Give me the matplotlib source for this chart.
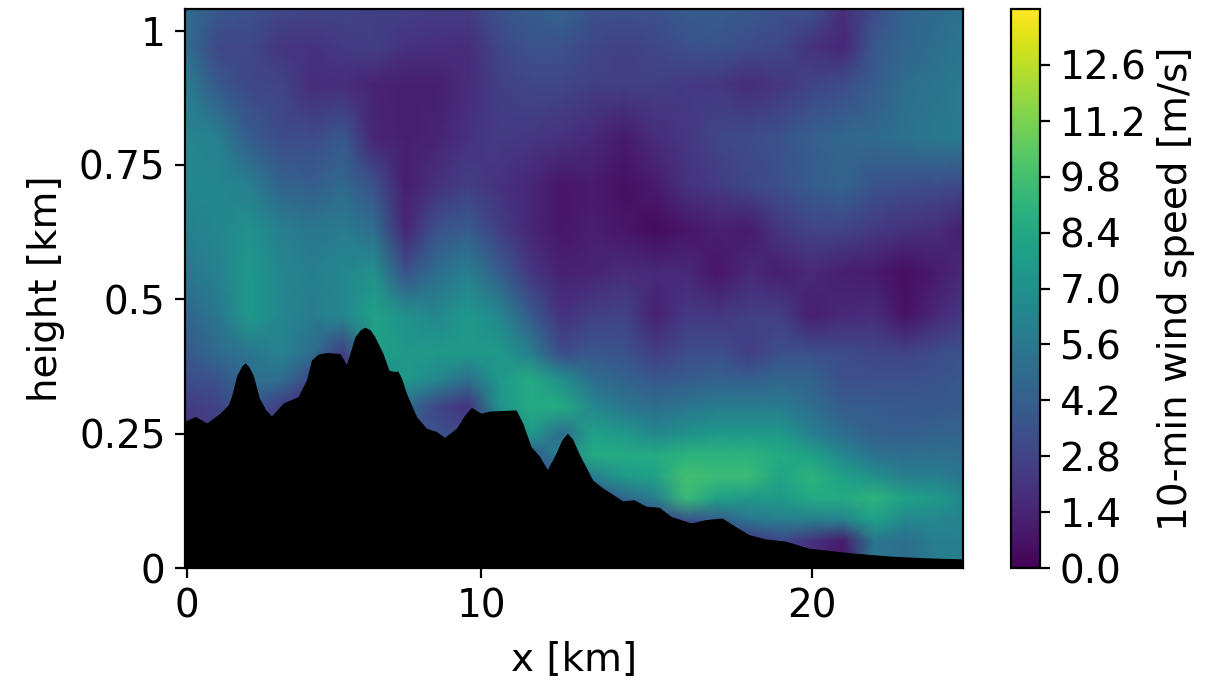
import numpy as np
import matplotlib
matplotlib.use("Agg")
import matplotlib.pyplot as plt

# terrain profile
terrain_x = [-0.06, 0.27, 0.64, 1.06, 1.33, 1.44, 1.60, 1.75, 1.86, 1.98, 2.13, 2.32, 2.53, 2.71, 3.09, 3.56,
             3.83, 3.99, 4.2, 4.5, 4.9, 5.11, 5.25, 5.38, 5.55, 5.7, 5.87, 6.02, 6.28, 6.47, 6.60, 6.76, 6.88,
             7.03, 7.35, 7.67, 7.99, 8.25, 8.63, 8.90, 9.11, 9.42, 9.69, 10.1, 10.54, 10.75, 11.02, 11.29,
             11.54, 11.82, 12.0, 12.18, 12.35, 12.57, 12.99, 13.31, 13.58, 13.95, 14.32, 14.70, 15.12, 15.50,
             16.13, 16.61, 17.14, 17.57, 18.0, 18.53, 19.17, 19.91, 21.29, 22.57, 23.64, 24.85]
terrain_h = [0.273, 0.282, 0.270, 0.288, 0.304, 0.322, 0.359, 0.375, 0.382, 0.375, 0.358, 0.316, 0.294, 0.283,
             0.307, 0.319, 0.350, 0.387, 0.398, 0.401, 0.399, 0.379, 0.405, 0.430, 0.443, 0.448, 0.443, 0.430,
             0.399, 0.368, 0.366, 0.366, 0.352, 0.325, 0.282, 0.260, 0.254, 0.243, 0.260, 0.285, 0.299, 0.288,
             0.292, 0.293, 0.294, 0.270, 0.226, 0.208, 0.183, 0.214, 0.238, 0.251, 0.240, 0.211, 0.164, 0.149,
             0.139, 0.125, 0.127, 0.115, 0.113, 0.096, 0.084, 0.090, 0.093, 0.077, 0.062, 0.054, 0.050, 0.037,
             0.028, 0.022, 0.019, 0.017]

# wind speed on a coarse grid, one row per height from the ground up
grid_x = [-0.06, 1, 2, 3, 4, 5, 6, 7, 8, 9, 10, 11, 12, 13, 14, 15, 16, 17, 18, 19, 20, 21, 22, 23, 24, 24.85]
grid_h = [0.0, 0.05, 0.09, 0.13, 0.17, 0.21, 0.25, 0.30, 0.35, 0.40, 0.47, 0.55, 0.63, 0.71, 0.80, 0.90, 0.97, 1.04]
wind = [
    [2, 2, 2, 2, 2, 2, 2, 2, 2, 2, 2, 2, 2, 2, 2, 2, 2, 2, 2, 3, 1.5, 0.8, 5.5, 5, 6, 6],
    [2, 2, 2, 2, 2, 2, 2, 2, 2, 2, 2, 2, 2, 2, 2, 2, 2, 2, 2, 3, 2, 1, 5.5, 5, 6, 6],
    [2, 2, 2, 2, 2, 2, 2, 2, 2, 2, 2, 2, 2, 2, 3, 3, 3.5, 4, 5.5, 6, 6, 6.2, 8, 6.5, 6.5, 6.2],
    [2, 2, 2, 2, 2, 2, 2, 2, 2, 2, 2, 2, 2, 3, 4.5, 6, 9.5, 8, 7.5, 7.5, 8.5, 8.5, 9, 8, 7.5, 6.5],
    [2, 2, 2, 2, 2, 2, 2, 2, 2, 2, 2, 3, 4, 6, 7.5, 8, 9.8, 9.5, 9.5, 8.2, 9, 8, 7, 6, 6, 5.5],
    [2, 2, 2, 2, 2, 2, 2, 2, 3, 3, 3, 4, 6, 8.5, 8.5, 8.5, 9, 9, 9, 8.5, 8, 6.5, 5.2, 5, 5, 5],
    [2, 2.5, 3, 2.5, 2, 2, 3, 3, 3.5, 3, 5, 7.5, 5, 8, 7.5, 6.5, 7, 7.5, 7.5, 7.5, 6, 5, 4.3, 4.2, 4.4, 4.5],
    [2.4, 2.8, 4, 2.5, 1.5, 2, 4, 5, 3, 2, 7, 8.5, 8.5, 6.5, 5.5, 5, 5.5, 5.8, 5.8, 5.8, 5, 4, 4, 3.8, 3.8, 4],
    [3.2, 3.6, 5, 5, 3, 1.5, 6, 7.5, 6.5, 5, 7.5, 8.5, 7, 5, 4.4, 3.8, 4, 4.4, 4.2, 4.6, 4.4, 3.4, 3.4, 3.4, 3.6, 3.8],
    [3.8, 4.8, 5.5, 6.2, 5, 2.5, 8, 7.5, 7.5, 7.5, 7.5, 6, 3.2, 3.8, 3.6, 2.6, 3.2, 3.4, 2.6, 3.4, 3.4, 3.2, 3, 2.8, 3.2, 3.6],
    [4.5, 5.5, 7.5, 6.5, 5.8, 6.5, 8, 7, 6.5, 7.5, 6.5, 4, 2, 2.6, 2.8, 1.3, 2.3, 2.2, 2.6, 2.6, 1.2, 1.6, 1.8, 0.7, 1.6, 2.2],
    [5.5, 6.2, 7.5, 6.5, 6, 6.5, 7, 3.5, 5, 6, 4.2, 2.2, 1.3, 1.4, 1.8, 1.6, 1.6, 0.8, 1.6, 1.2, 1.6, 1.2, 1, 0.5, 1, 1.6],
    [6, 6.5, 7, 6, 5.5, 5.8, 5, 1.5, 3.5, 4, 2.6, 1.5, 0.8, 1.2, 0.8, 0.4, 0.8, 1.2, 1, 2.2, 2.8, 2.8, 2.4, 2, 1.8, 1.2],
    [6.5, 6.5, 6, 4.5, 4.2, 4.8, 3.5, 1.2, 2, 2.6, 2, 1.5, 0.8, 1.0, 0.6, 1.0, 2, 2.4, 3, 3.4, 4, 4.4, 3.6, 3.3, 3.2, 3],
    [6.5, 6, 4, 3.2, 3.2, 3.8, 1.5, 1.2, 1.4, 2, 2.4, 2.2, 2.0, 1.6, 1.0, 1.8, 2.2, 3, 3.2, 3.6, 4.2, 4.6, 4.8, 5.2, 5.6, 5.8],
    [6, 3.8, 3, 2.8, 1.8, 1.8, 1.4, 1.2, 1.2, 1.8, 2.6, 3, 3, 2.6, 2.6, 2.6, 2.4, 2.2, 1.8, 2.2, 2.8, 3.2, 4, 5, 5.4, 5.8],
    [5, 3, 3, 2.2, 2, 2.4, 2.6, 2, 1.9, 1.8, 3, 3.5, 3.5, 3, 2.6, 3, 3.4, 3.6, 3.2, 3, 2, 1.5, 3.8, 4.5, 5, 5.5],
    [5, 3.8, 3.5, 3, 2.8, 2.8, 2.6, 2.6, 2.5, 2.5, 3.5, 4, 4.5, 3.5, 3.5, 3.5, 4, 4, 3.8, 3.5, 3.5, 1.8, 3.2, 4.5, 4.8, 5.2],
]

xtick_pos = [0, 9.43, 20]
xtick_labels = ["0", "10", "20"]
ytick_pos = [0, 0.25, 0.5, 0.75, 1]
ytick_labels = ["0", "0.25", "0.5", "0.75", "1"]
cbar_ticks = [0.0, 1.4, 2.8, 4.2, 5.6, 7.0, 8.4, 9.8, 11.2, 12.6]

W, H = 1221, 683
plt.rcParams["font.size"] = 14
fig = plt.figure(figsize=(W / 200, H / 200), dpi=200)
ax = fig.add_axes([185 / W, 1 - 568 / H, (963 - 185) / W, (568 - 9) / H])
cax = fig.add_axes([1011 / W, 1 - 568 / H, 29 / W, (568 - 9) / H])

mesh = ax.pcolormesh(grid_x, grid_h, np.array(wind), cmap="viridis", vmin=0, vmax=14, shading="gouraud")
ax.fill_between(terrain_x, 0, terrain_h, color="black", lw=0, zorder=3)

ax.set_xlim(-0.06, 24.85)
ax.set_ylim(0, 1.04)
ax.set_xticks(xtick_pos, xtick_labels)
ax.set_yticks(ytick_pos, ytick_labels)
ax.set_xlabel("x [km]", labelpad=5.5)
ax.set_ylabel("height [km]", labelpad=5)

cbar = fig.colorbar(mesh, cax=cax, ticks=cbar_ticks)
cbar.ax.set_yticklabels(["{:.1f}".format(t) for t in cbar_ticks])
cbar.set_label("10-min wind speed [m/s]")

fig.savefig("out.png", dpi=200)
